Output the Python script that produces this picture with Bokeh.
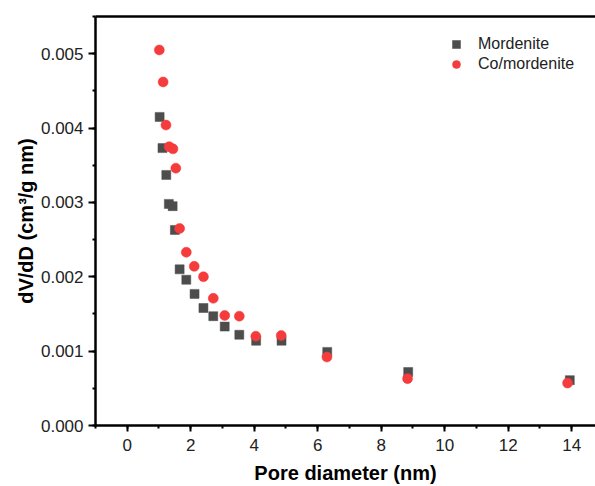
from bokeh.plotting import figure
from bokeh.models import (Range1d, SingleIntervalTicker, NumeralTickFormatter,
                          LinearAxis, Legend)
from bokeh.embed import file_html
from bokeh.resources import INLINE

# Mordenite (gray squares)
mor_x = [1.02, 1.11, 1.23, 1.31, 1.43, 1.50, 1.65, 1.86, 2.12, 2.40, 2.71,
         3.07, 3.53, 4.06, 4.86, 6.30, 8.85, 13.94]
mor_y = [0.00415, 0.00373, 0.00337, 0.00298, 0.00295, 0.00263, 0.00210,
         0.00196, 0.00177, 0.00158, 0.00147, 0.00133, 0.00122, 0.00114,
         0.00114, 0.00099, 0.00072, 0.00061]

# Co/mordenite (red circles)
co_x = [1.01, 1.13, 1.22, 1.32, 1.44, 1.53, 1.65, 1.86, 2.11, 2.40, 2.71,
        3.07, 3.53, 4.05, 4.85, 6.29, 8.83, 13.87]
co_y = [0.00505, 0.00462, 0.00404, 0.00375, 0.00372, 0.00346, 0.00265,
        0.00233, 0.00214, 0.00200, 0.00171, 0.00148, 0.00147, 0.00120,
        0.00121, 0.00092, 0.00063, 0.00057]

series_names = ["Mordenite", "Co/mordenite"]
x_title = "Pore diameter (nm)"
y_title = "dV/dD (cm\u00b3/g nm)"

FONT = "Liberation Sans"

p = figure(width=595, height=486, output_backend="svg", toolbar_location=None,
           x_range=Range1d(-1, 14.75), y_range=Range1d(0, 0.0055),
           min_border_left=95, min_border_right=0, min_border_top=16,
           min_border_bottom=61)
p.outline_line_color = None
p.xgrid.visible = False
p.ygrid.visible = False
p.background_fill_color = "white"
p.border_fill_color = "white"

r1 = p.scatter(mor_x, mor_y, marker="square", size=9, fill_color="#4d4d4d",
               line_color="#4d4d4d", line_width=0.5)
r2 = p.scatter(co_x, co_y, marker="circle", size=10, fill_color="#f43c3c",
               line_color="#f43c3c", line_width=0.5)

# axes
xa = p.xaxis[0]
ya = p.yaxis[0]
xa.ticker = SingleIntervalTicker(interval=2, num_minor_ticks=2)
ya.ticker = SingleIntervalTicker(interval=0.001, num_minor_ticks=2)
ya.formatter = NumeralTickFormatter(format="0.000")

for ax in (xa, ya):
    ax.axis_line_width = 2.5
    ax.axis_line_color = "black"
    ax.major_tick_line_width = 2
    ax.minor_tick_line_width = 2
    ax.major_tick_line_color = "black"
    ax.minor_tick_line_color = "black"
    ax.major_tick_in = 0
    ax.minor_tick_in = 0
    ax.minor_tick_out = 3
    ax.major_label_text_font = FONT
    ax.major_label_text_font_size = "17px"
    ax.major_label_text_color = "#222222"
    ax.axis_label_text_font = FONT
    ax.axis_label_text_font_size = "20px"
    ax.axis_label_text_font_style = "bold"
    ax.axis_label_text_color = "black"

xa.major_tick_out = 6
ya.major_tick_out = 7
xa.major_label_standoff = 7
ya.major_label_standoff = 5
xa.axis_label = x_title
ya.axis_label = y_title
xa.axis_label_standoff = 8
ya.axis_label_standoff = 1

top = LinearAxis(axis_line_width=2.5, axis_line_color="black",
                 major_tick_line_color=None, minor_tick_line_color=None,
                 major_tick_out=0, minor_tick_out=0, major_tick_in=0,
                 minor_tick_in=0, major_label_text_font_size="0px",
                 major_label_standoff=0, major_label_text_color=None)
p.add_layout(top, "above")

legend = Legend(items=[(series_names[0], [r1]), (series_names[1], [r2])],
                location=(351, 351), padding=0, spacing=0, margin=0,
                glyph_width=20, glyph_height=20, label_height=20,
                label_standoff=12, border_line_color=None,
                background_fill_alpha=0,
                label_text_font=FONT, label_text_font_size="16px",
                label_text_color="#222222")
p.add_layout(legend, "center")

open("out.html", "w").write(file_html(p, INLINE))
